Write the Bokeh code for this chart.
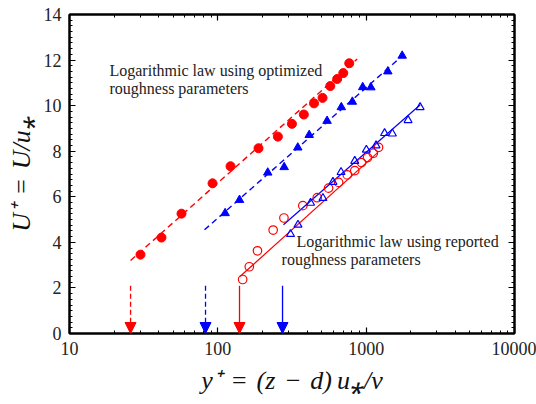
from bokeh.plotting import figure
from bokeh.models import (LogAxis, LinearAxis, FixedTicker, Arrow, NormalHead,
                          Label, Range1d)
from bokeh.embed import file_html
from bokeh.resources import INLINE

# Velocity profiles in wall units, U+ versus y+
opt_red_x = [30.1, 41.7, 56.9, 92.1, 121.8, 188, 254, 316, 380, 445, 508, 573, 638, 701, 769]
opt_red_y = [3.46, 4.21, 5.26, 6.59, 7.34, 8.13, 8.64, 9.20, 9.61, 10.10, 10.34, 10.86, 11.17, 11.43, 11.86]

opt_blue_x = [112, 140, 217, 280, 346, 413, 545, 680, 807, 948, 1076, 1400, 1749]
opt_blue_y = [5.28, 5.86, 7.06, 7.30, 8.16, 8.71, 9.33, 9.93, 10.17, 10.81, 10.80, 11.50, 12.19]

rep_red_x = [147, 163, 185, 236, 279, 374, 468, 558, 652, 746, 838, 931, 1022, 1117, 1212]
rep_red_y = [2.37, 2.93, 3.63, 4.54, 5.07, 5.61, 5.96, 6.38, 6.63, 6.96, 7.15, 7.50, 7.72, 7.91, 8.17]

rep_blue_x = [309, 347, 422, 511, 597, 677, 838, 1003, 1166, 1331, 1502, 1917, 2310]
rep_blue_y = [4.36, 4.77, 5.73, 5.94, 6.65, 7.08, 7.57, 8.06, 8.25, 8.79, 8.77, 9.36, 9.93]

# Logarithmic-law fits (end points)
law_opt_red_x = [25.8, 870]
law_opt_red_y = [3.2, 12.05]
law_opt_blue_x = [81.3, 1863]
law_opt_blue_y = [4.55, 12.34]
law_rep_red_x = [141, 1200]
law_rep_red_y = [2.5, 7.95]
law_rep_blue_x = [277, 2317]
law_rep_blue_y = [4.77, 10.04]

# Lower limit of the log region for each fit
marker_x = [25.8, 82.6, 140, 273]
marker_top = 2.1

x_ticks = [10, 100, 1000, 10000]
y_ticks = [0, 2, 4, 6, 8, 10, 12, 14]

RED = "#ff0000"
BLUE = "#0000ff"
SERIF = "Liberation Serif"
SP = "\u2004"      # three-per-em space around relations/operators
THIN = "\u2009"

p = figure(width=536, height=404, x_axis_type="log",
           x_range=Range1d(10, 10000), y_range=Range1d(0, 14),
           output_backend="svg", toolbar_location=None,
           min_border_left=69, min_border_right=22,
           min_border_top=14, min_border_bottom=71)
p.xgrid.visible = False
p.ygrid.visible = False
p.outline_line_color = "black"
p.outline_line_width = 2
p.background_fill_color = "white"
p.border_fill_color = "white"

x_minor = [m * 10 ** k for k in range(1, 4) for m in range(2, 10)]
y_minor = [i * 0.25 for i in range(0, 57) if i % 8 != 0]


def style_axis(ax, ticks, minor, show_labels):
    ax.ticker = FixedTicker(ticks=ticks, minor_ticks=minor)
    ax.axis_line_color = "black"
    ax.axis_line_width = 2
    ax.major_tick_in = 6
    ax.major_tick_out = 0
    ax.minor_tick_in = 3
    ax.minor_tick_out = 0
    ax.major_tick_line_color = "black"
    ax.minor_tick_line_color = "black"
    ax.major_tick_line_width = 1.2
    ax.minor_tick_line_width = 1
    if show_labels:
        ax.major_label_text_font = SERIF
        ax.major_label_text_font_size = "18px"
        ax.major_label_text_color = "#222222"
        ax.major_label_standoff = 8
    else:
        ax.major_label_text_font_size = "0px"
        ax.major_label_standoff = 0
        ax.major_label_text_color = None


style_axis(p.xaxis[0], x_ticks, x_minor, True)
style_axis(p.yaxis[0], y_ticks, y_minor, True)
p.xaxis[0].major_label_overrides = {10: "10", 100: "100", 1000: "1000", 10000: "10000"}

for ax, txt, standoff in [
    (p.xaxis[0], f"y\u207a{SP}={SP}(z{SP}\u2212{SP}d){THIN}u\u204e/\u03bd", 8),
    (p.yaxis[0], f"U\u207a{SP}={SP}U/u\u204e", 5),
]:
    ax.axis_label = txt
    ax.axis_label_text_font = SERIF
    ax.axis_label_text_font_style = "italic"
    ax.axis_label_text_font_size = "26px"
    ax.axis_label_text_color = "#111111"
    ax.axis_label_standoff = standoff

top_axis = LogAxis()
style_axis(top_axis, x_ticks, x_minor, False)
p.add_layout(top_axis, "above")
right_axis = LinearAxis()
style_axis(right_axis, y_ticks, y_minor, False)
p.add_layout(right_axis, "right")

# Logarithmic-law lines
p.line(law_opt_red_x, law_opt_red_y, line_color=RED, line_width=1.4, line_dash="6 4")
p.line(law_opt_blue_x, law_opt_blue_y, line_color=BLUE, line_width=1.4, line_dash="6 4")
p.line(law_rep_red_x, law_rep_red_y, line_color=RED, line_width=1.2)
p.line(law_rep_blue_x, law_rep_blue_y, line_color=BLUE, line_width=1.2)

# Measured profiles
p.scatter(opt_red_x, opt_red_y, marker="circle", size=9, fill_color=RED, line_color=RED)
p.scatter(opt_blue_x, opt_blue_y, marker="triangle", size=8.5, fill_color=BLUE, line_color=BLUE)
p.scatter(rep_red_x, rep_red_y, marker="circle", size=8.5, fill_color=None, line_color=RED, line_width=1.2)
p.scatter(rep_blue_x, rep_blue_y, marker="triangle", size=8, fill_color=None, line_color=BLUE, line_width=1.2)

# Arrows down to the axis
arrow_colors = [RED, BLUE, RED, BLUE]
arrow_dash = ["5 3", "5 3", "solid", "solid"]
for xv, c, d in zip(marker_x, arrow_colors, arrow_dash):
    head = NormalHead(size=11, fill_color=c, line_color=c, line_width=1)
    p.add_layout(Arrow(end=head, x_start=xv, y_start=marker_top, x_end=xv, y_end=0,
                       line_color=c, line_width=1.3, line_dash=d))

# Annotations
note_style = dict(text_font=SERIF, text_font_size="16px", text_color="#222222",
                  text_baseline="middle", text_align="left")
p.add_layout(Label(x=18.6, y=11.53, text="Logarithmic law using optimized", **note_style))
p.add_layout(Label(x=18.6, y=10.75, text="roughness parameters", **note_style))
p.add_layout(Label(x=339, y=4.05, text="Logarithmic law using reported", **note_style))
p.add_layout(Label(x=269, y=3.25, text="roughness parameters", **note_style))

open("out.html", "w").write(file_html(p, INLINE))
